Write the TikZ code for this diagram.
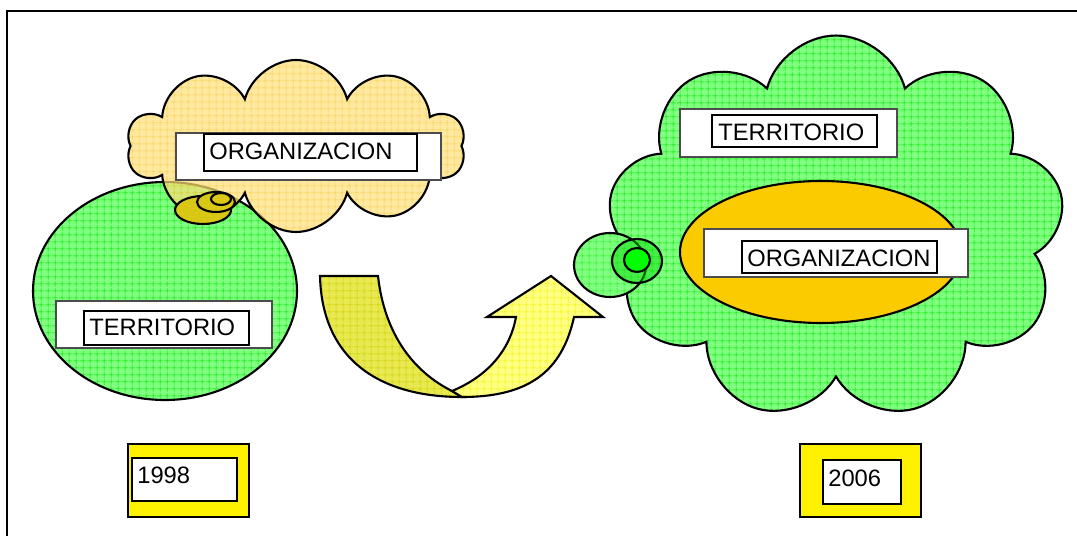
\documentclass[tikz,border=0pt]{standalone}
\usepackage{fontspec}
\setmainfont{Liberation Sans}
\usetikzlibrary{shapes.symbols,patterns.meta}
\definecolor{leafgreen}{RGB}{128,255,128}
\definecolor{gridgreen}{RGB}{0,225,0}
\definecolor{sandyellow}{RGB}{255,222,120}
\definecolor{gridsand}{RGB}{245,195,40}
\definecolor{olive}{RGB}{215,200,20}
\definecolor{mustard}{RGB}{232,232,80}
\definecolor{gridmustard}{RGB}{205,205,0}
\definecolor{paleyellow}{RGB}{255,255,130}
\definecolor{gridpale}{RGB}{240,240,0}
\definecolor{amber}{RGB}{250,204,0}
\tikzset{
  gridfill/.style 2 args={preaction={fill=#1}, pattern={Hatch[angle=0,distance=4pt,line width=0.35pt]}, pattern color=#2},
  inkline/.style={draw=black, line width=1.2pt},
  wordtext/.style={font=\fontsize{13.5}{16}\selectfont, inner sep=0pt, anchor=west},
  outerbox/.style={draw=black!70, fill=white, line width=0.9pt},
  innerbox/.style={draw=black, line width=1.3pt},
  yearbox/.style={draw=black, fill=yellow, line width=1.1pt},
}
\begin{document}
\begin{tikzpicture}[x=0.02cm, y=-0.02cm]
  \useasboundingbox (0,0) rectangle (1077,536);
  % frame
  \draw[line width=1.4pt] (7,536) -- (7,11) -- (1077,11);

  % 1998: territory with the organisation cloud
  \draw[inkline, gridfill={leafgreen}{gridgreen}] (165,291) ellipse [x radius=132, y radius=109];
  \node[cloud, cloud puffs=10, inkline, gridfill={sandyellow}{gridsand}, fill opacity=0.7,
        minimum width=6.76cm, minimum height=3.44cm] (orgcloud) at (296,146) {};
  \draw[inkline, gridfill={olive}{gridsand}, fill opacity=0.6] (203,210) ellipse [x radius=28, y radius=14];
  \draw[inkline, gridfill={olive}{gridsand}, fill opacity=0.6] (216,202) ellipse [x radius=19, y radius=10];
  \draw[inkline, gridfill={olive}{gridsand}, fill opacity=0.6] (221,199) ellipse [x radius=10, y radius=6];

  \draw[outerbox] (176,133) rectangle (441,180);
  \draw[innerbox] (204,134) rectangle (417,171);
  \node[wordtext] (orgold) at (209,151) {ORGANIZACION};
  \draw[outerbox] (56,301) rectangle (272,348);
  \draw[innerbox] (84,311) rectangle (249,345);
  \node[wordtext] (terrold) at (89,327) {TERRITORIO};

  % u-turn arrow
  \draw[inkline, gridfill={mustard}{gridmustard}]
    (320,276) -- (378,276) .. controls (384,330) and (410,370) .. (452,391)
    -- (462,397) .. controls (380,397) and (322,360) .. cycle;
  \draw[inkline, gridfill={paleyellow}{gridpale}]
    (452,391) .. controls (488,376) and (510,350) .. (516,317)
    -- (487,317) -- (551,276) -- (603,317) -- (574,317)
    .. controls (562,372) and (528,397) .. (462,397) -- cycle;

  % 2006: organisation inside the territory
  \node[cloud, cloud puffs=9, inkline, gridfill={leafgreen}{gridgreen},
        minimum width=9.14cm, minimum height=7.7cm] (terrcloud) at (836,228) {};
  \draw[inkline, gridfill={leafgreen}{gridgreen}, fill opacity=0.7] (610,265) ellipse [x radius=36, y radius=32];
  \draw[inkline, fill=green!85!black, fill opacity=0.45] (637,261) ellipse [x radius=25, y radius=22];
  \draw[inkline, fill=green] (637,260) ellipse [x radius=13, y radius=12];
  \draw[inkline, fill=amber] (821,252) ellipse [x radius=141, y radius=71];

  \draw[outerbox] (680,109) rectangle (897,157);
  \draw[innerbox] (712,115) rectangle (877,147);
  \node[wordtext] (terrnew) at (718,132) {TERRITORIO};
  \draw[outerbox] (704,229) rectangle (968,277);
  \draw[innerbox] (742,241) rectangle (937,273);
  \node[wordtext] (orgnew) at (747,258) {ORGANIZACION};

  % years
  \draw[yearbox] (128,444) rectangle (249,517);
  \draw[innerbox, fill=white] (132,458) rectangle (237,501);
  \node[wordtext] (yearold) at (137,475) {1998};
  \draw[yearbox] (800,444) rectangle (921,517);
  \draw[innerbox, fill=white] (823,460) rectangle (901,504);
  \node[wordtext] (yearnew) at (828,478) {2006};
\end{tikzpicture}
\end{document}
